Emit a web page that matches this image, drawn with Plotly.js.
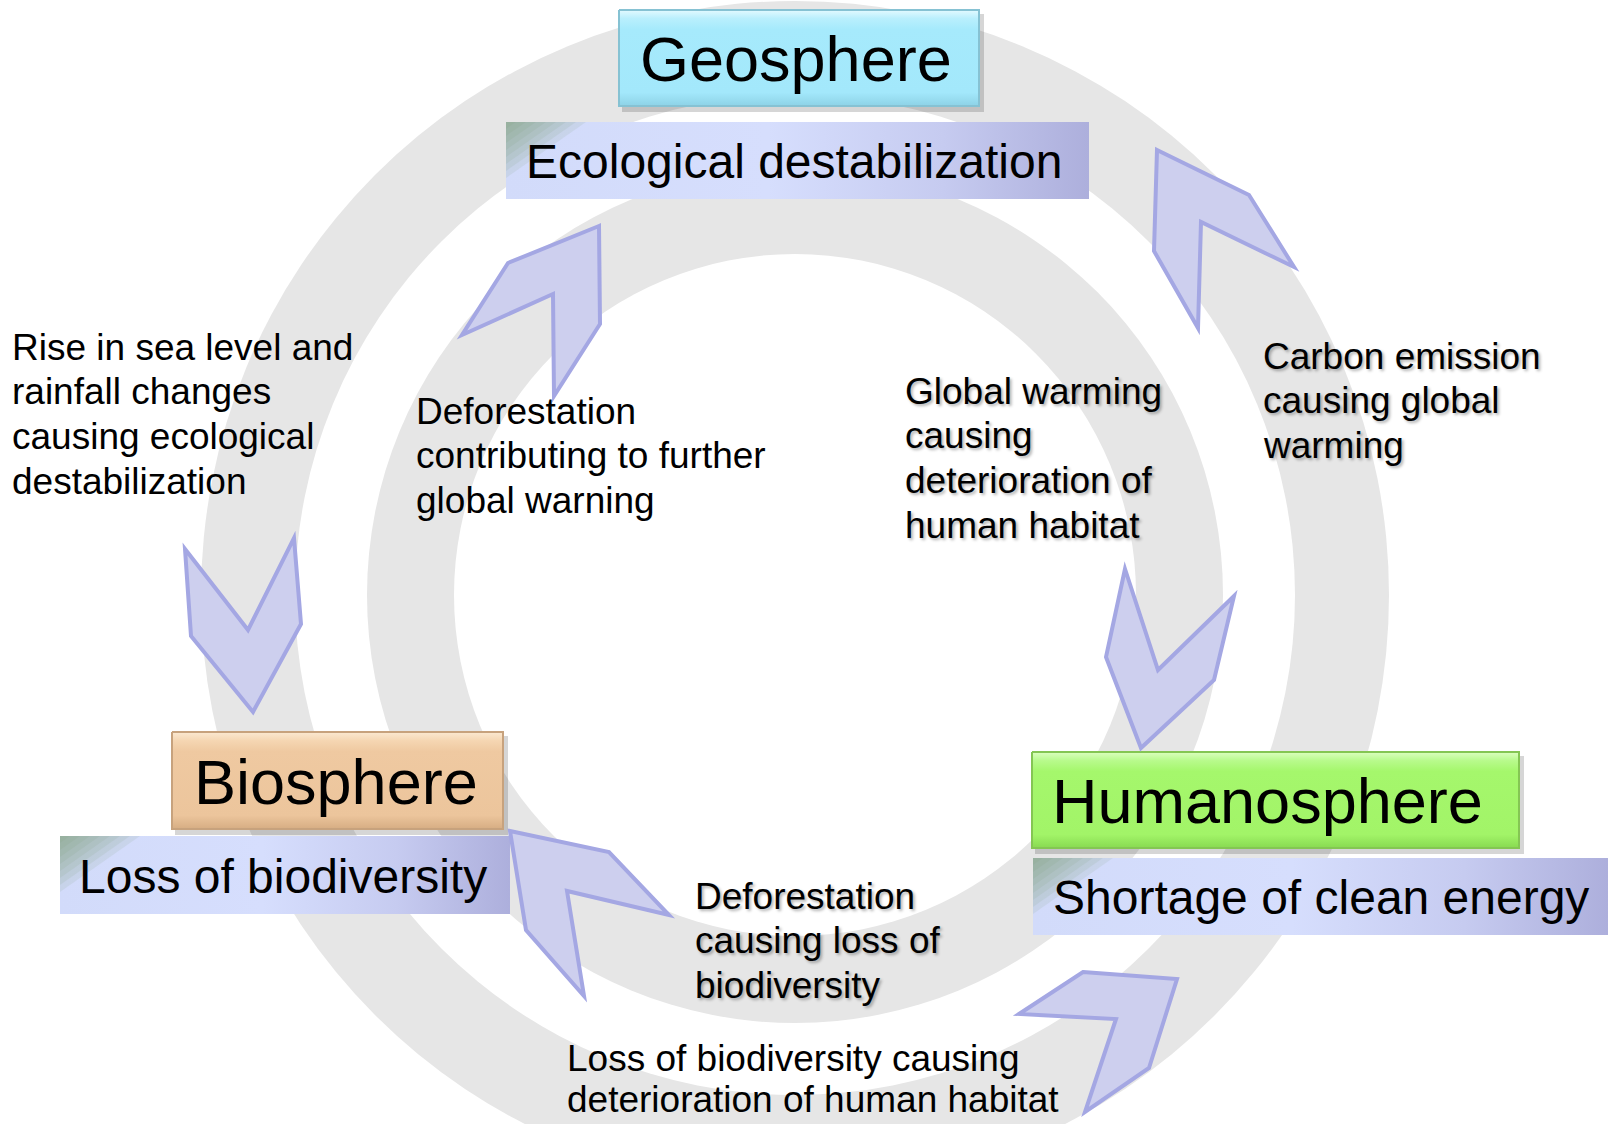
<!DOCTYPE html>
<html><head><meta charset="utf-8">
<script src="https://cdn.plot.ly/plotly-3.0.1.min.js"></script>
<style>html,body{margin:0;padding:0;background:#fff;}#chart{width:1608px;height:1124px;}</style>
</head><body><div id="chart"></div>
<script>
// ---- content ----
const sphereNames = ["Geosphere", "Biosphere", "Humanosphere"];
const sphereIssues = ["Ecological destabilization", "Loss of biodiversity", "Shortage of clean energy"];
const linkLabelA = ["Rise in sea level and", "rainfall changes", "causing ecological", "destabilization"];
const linkLabelB = ["Deforestation", "contributing to further", "global warning"];
const linkLabelC = ["Global warming", "causing", "deterioration of", "human habitat"];
const linkLabelD = ["Carbon emission", "causing global", "warming"];
const linkLabelE = ["Deforestation", "causing loss of", "biodiversity"];
const linkLabelF = ["Loss of biodiversity causing", "deterioration of human habitat"];
const linkLabels = [linkLabelA, linkLabelB, linkLabelC, linkLabelD, linkLabelE, linkLabelF];

// ---- layout geometry (pixel space of the 1608x1124 page) ----
const W = 1608, H = 1124;
const ring = {cx: 795, cy: 595, radii: [594, 500, 428, 341]};
const sphereBoxes = [
  {x0: 619, x1: 979, y0: 10, y1: 106, tx: 638, cs: [[0,'#e3faff'],[0.09,'#b9effd'],[0.2,'#a6eafc'],[0.86,'#a3e8fb'],[1,'#8dd2e6']], edge: '#86c2d3'},
  {x0: 172, x1: 503, y0: 732, y1: 829, tx: 192, cs: [[0,'#fbe9d2'],[0.09,'#f5d6b2'],[0.2,'#efc9a1'],[0.86,'#ecc59c'],[1,'#d6ad83']], edge: '#c7a27d'},
  {x0: 1032, x1: 1519, y0: 752, y1: 848, tx: 1050, cs: [[0,'#dcffc0'],[0.09,'#b8fa8c'],[0.2,'#a5f76c'],[0.86,'#a2f468'],[1,'#88da51']], edge: '#84c653'}
];
const issueBoxes = [
  {x0: 506, x1: 1089, y0: 122, y1: 199, tx: 524},
  {x0: 60, x1: 510, y0: 836, y1: 914, tx: 77},
  {x0: 1033, x1: 1608, y0: 858, y1: 935, tx: 1051}
];
const labelPos = [
  {x: 10, y: 347, step: 44.8, shadow: false},
  {x: 414, y: 411, step: 44.8, shadow: false},
  {x: 903, y: 391, step: 44.8, shadow: true},
  {x: 1261, y: 356, step: 44.8, shadow: true},
  {x: 693, y: 896, step: 44.8, shadow: true},
  {x: 565, y: 1058, step: 41.5, shadow: false}
];
const arrowShapes = [
  [[599,226],[508,263],[462,335],[553,294],[554,396],[600,324]],
  [[1157,150],[1249,195],[1294,267],[1201,222],[1198,328],[1154,251]],
  [[185,549],[248,630],[294,538],[301,624],[253,712],[191,636]],
  [[1125,569],[1158,670],[1234,596],[1214,680],[1141,748],[1106,657]],
  [[510,831],[609,852],[669,915],[567,891],[584,996],[526,930]],
  [[1083,972],[1177,979],[1149,1068],[1085,1112],[1116,1019],[1019,1014]]
];

const FONT = 'Liberation Sans, Arial, sans-serif';
const shapes = [];
const traces = [];
const annotations = [];

// rings
ring.radii.forEach((r, i) => {
  shapes.push({type: 'circle', xref: 'x', yref: 'y', layer: 'below',
    x0: ring.cx - r, x1: ring.cx + r, y0: ring.cy - r, y1: ring.cy + r,
    fillcolor: i % 2 === 0 ? '#e6e6e6' : '#ffffff', line: {width: 0}});
});

// box shadows
sphereBoxes.forEach(b => {
  shapes.push({type: 'rect', xref: 'x', yref: 'y', layer: 'below',
    x0: b.x0 + 3, x1: b.x1 + 5, y0: b.y0 + 4, y1: b.y1 + 6,
    fillcolor: 'rgba(0,0,0,0.16)', line: {width: 0}});
});

function rectTrace(b, grad, line) {
  return {type: 'scatter', x: [b.x0, b.x1, b.x1, b.x0, b.x0], y: [b.y0, b.y0, b.y1, b.y1, b.y0],
    mode: 'lines', line: line || {width: 0, color: 'rgba(0,0,0,0)'}, fill: 'toself',
    fillgradient: grad, hoverinfo: 'skip', showlegend: false};
}

// issue boxes (horizontal lavender gradient + greenish top-left corner)
issueBoxes.forEach((b, i) => {
  traces.push(rectTrace(b, {type: 'horizontal', start: b.x0, stop: b.x1,
    colorscale: [[0, '#d2dbfa'], [0.45, '#d6defd'], [0.75, '#c6cbf0'], [1, '#adafdc']]}));
  for (let k = 1; k <= 8; k++) {
    const w = 10 * k, h = 7 * k;
    traces.push({type: 'scatter', x: [b.x0, b.x0 + w, b.x0, b.x0], y: [b.y0, b.y0, b.y0 + h, b.y0],
      mode: 'lines', line: {width: 0, color: 'rgba(0,0,0,0)'}, fill: 'toself',
      fillcolor: 'rgba(125,155,115,0.12)', hoverinfo: 'skip', showlegend: false});
  }
  annotations.push({x: b.tx, y: (b.y0 + b.y1) / 2 + 1, xref: 'x', yref: 'y', xanchor: 'left', yanchor: 'middle',
    text: sphereIssues[i], showarrow: false, font: {family: FONT, size: 48, color: '#000'}});
});

// sphere boxes
sphereBoxes.forEach((b, i) => {
  traces.push(rectTrace(b, {type: 'vertical', start: b.y0, stop: b.y1, colorscale: b.cs},
    {width: 2, color: b.edge}));
  annotations.push({x: b.tx, y: (b.y0 + b.y1) / 2 + 1, xref: 'x', yref: 'y', xanchor: 'left', yanchor: 'middle',
    text: sphereNames[i], showarrow: false, font: {family: FONT, size: 63, color: '#000'}});
});

// arrows
arrowShapes.forEach(pts => {
  const d = 'M ' + pts.map(p => p[0] + ',' + p[1]).join(' L ') + ' Z';
  shapes.push({type: 'path', path: d, xref: 'x', yref: 'y', layer: 'above',
    fillcolor: '#cdcfee', line: {color: '#a4a7e3', width: 4}});
});

// link labels
linkLabels.forEach((lines, i) => {
  const p = labelPos[i];
  lines.forEach((t, j) => {
    annotations.push({x: p.x, y: p.y + j * p.step, xref: 'x', yref: 'y', xanchor: 'left', yanchor: 'middle',
      text: t, showarrow: false,
      font: {family: FONT, size: 37, color: '#000', shadow: p.shadow ? '2px 2px 3px rgba(0,0,0,0.3)' : 'none'}});
  });
});

const layout = {
  width: W, height: H, margin: {l: 0, r: 0, t: 0, b: 0, pad: 0},
  paper_bgcolor: '#ffffff', plot_bgcolor: '#ffffff',
  xaxis: {range: [0, W], visible: false, fixedrange: true},
  yaxis: {range: [H, 0], visible: false, fixedrange: true},
  shapes: shapes, annotations: annotations, showlegend: false
};
Plotly.newPlot('chart', traces, layout, {staticPlot: true, displayModeBar: false});
</script></body></html>
